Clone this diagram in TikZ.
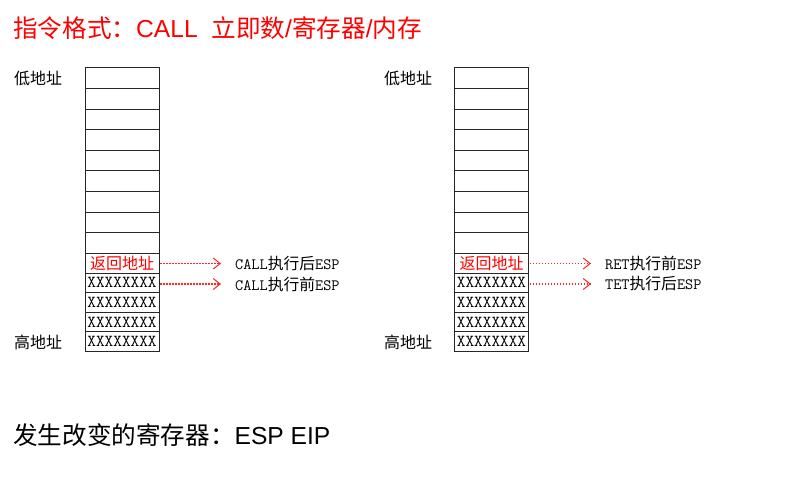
\documentclass[tikz,border=0pt]{standalone}
\usepackage{fontspec}
\setmainfont{Liberation Sans}
\newfontfamily\cjk{Noto Sans CJK SC}
\usetikzlibrary{arrows.meta}
\newcommand{\lab}[3]{{\fontsize{15.8}{16}\ttfamily #1}{\fontsize{15.8}{16}\cjk #2}{\fontsize{15.8}{16}\ttfamily #3}}
\begin{document}
\begin{tikzpicture}[x=1pt,y=-1pt,
  cell/.style={draw=black!85, line width=0.8pt, minimum width=74pt, inner sep=0pt, outer sep=0pt},
  xx/.style={font=\fontsize{16.8}{18}\ttfamily},
  addr/.style={anchor=west, inner sep=0pt, font=\fontsize{16}{18}\cjk},
  esplab/.style={anchor=west, inner sep=0pt},
  esparrow/.style={draw=red!85, line width=1.2pt, dash pattern=on 1.5pt off 1.5pt, -{Straight Barb[length=7pt,width=11pt,line width=1pt]}, shorten >=14pt, shorten <=1pt},
  big/.style={anchor=west, inner sep=0pt, font=\fontsize{24.6}{28}\selectfont}
]
\useasboundingbox (0,0) rectangle (789,479);
\node[big, text=red] (title) at (13,28) {{\cjk 指令格式：}CALL\ \ {\cjk 立即数}/{\cjk 寄存器}/{\cjk 内存}};
\node[big] (changed) at (13,435) {{\cjk 发生改变的寄存器：}ESP EIP};

\foreach \side/\x/\ax in {L/122/14, R/491.5/384} {
  \foreach \i/\t/\b in {1/67.7/88.3, 2/88.3/109, 3/109/129.6, 4/129.6/150.2, 5/150.2/170.8, 6/170.8/191.4, 7/191.4/212, 8/212/232.7, 9/232.7/253.3} {
    \node[cell, minimum height={\b-\t}] (\side\i) at (\x,{(\t+\b)/2}) {};
  }
  \node[cell, minimum height=20pt, text=red, font=\fontsize{16}{18}\cjk] (\side10) at (\x,263.3) {返回地址};
  \foreach \i/\t/\b in {11/273.3/292.3, 12/292.3/312.3, 13/312.3/331.7, 14/331.7/351} {
    \node[cell, xx, minimum height={\b-\t}] (\side\i) at (\x,{(\t+\b)/2}) {XXXXXXXX};
  }
  \node[addr] (\side low) at (\ax,78.3) {低地址};
  \node[addr] (\side high) at (\ax,342.7) {高地址};
}

\node[esplab] (l1) at (235,263.5) {\lab{CALL}{执行后}{ESP}};
\node[esplab] (l2) at (235,284) {\lab{CALL}{执行前}{ESP}};
\node[esplab] (r1) at (605,263.5) {\lab{RET}{执行前}{ESP}};
\node[esplab] (r2) at (605,284) {\lab{TET}{执行后}{ESP}};

\draw[esparrow] (L10.east |- l1.west) -- (l1.west);
\draw[esparrow] (L11.east |- l2.west) -- (l2.west);
\draw[esparrow] (R10.east |- r1.west) -- (r1.west);
\draw[esparrow] (R11.east |- r2.west) -- (r2.west);
\end{tikzpicture}
\end{document}
